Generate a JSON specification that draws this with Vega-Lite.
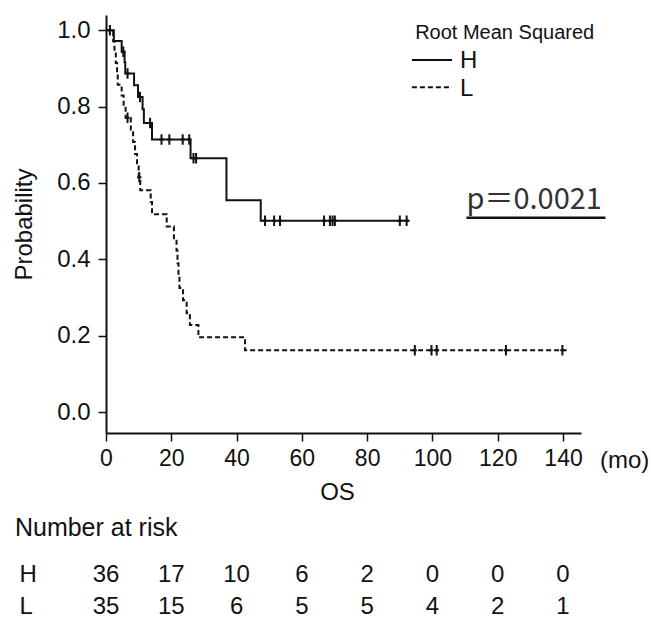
{
  "$schema": "https://vega.github.io/schema/vega-lite/v6.json",
  "autosize": {"type": "none"},
  "padding": {"left": 106, "top": 15, "right": 70, "bottom": 188},
  "width": 475,
  "height": 418,
  "background": "white",
  "config": {
    "font": "Liberation Sans",
    "view": {"stroke": null},
    "axis": {"grid": false}
  },
  "datasets": {
    "curve": [
      {"group": "H", "t": 0, "s": 1.0},
      {"group": "H", "t": 2.4, "s": 0.972},
      {"group": "H", "t": 4.8, "s": 0.944},
      {"group": "H", "t": 5.7, "s": 0.916},
      {"group": "H", "t": 5.9, "s": 0.887},
      {"group": "H", "t": 8.6, "s": 0.856},
      {"group": "H", "t": 9.8, "s": 0.825},
      {"group": "H", "t": 11.2, "s": 0.793},
      {"group": "H", "t": 11.6, "s": 0.757},
      {"group": "H", "t": 14.1, "s": 0.714},
      {"group": "H", "t": 25.9, "s": 0.665},
      {"group": "H", "t": 36.9, "s": 0.555},
      {"group": "H", "t": 47.4, "s": 0.501},
      {"group": "H", "t": 93.0, "s": 0.501},
      {"group": "L", "t": 0, "s": 1.0},
      {"group": "L", "t": 2.2, "s": 0.971},
      {"group": "L", "t": 2.6, "s": 0.943},
      {"group": "L", "t": 3.0, "s": 0.914},
      {"group": "L", "t": 3.4, "s": 0.886},
      {"group": "L", "t": 3.6, "s": 0.857},
      {"group": "L", "t": 4.8, "s": 0.829},
      {"group": "L", "t": 5.4, "s": 0.8},
      {"group": "L", "t": 6.0, "s": 0.771},
      {"group": "L", "t": 7.6, "s": 0.74},
      {"group": "L", "t": 8.3, "s": 0.707},
      {"group": "L", "t": 8.9, "s": 0.676},
      {"group": "L", "t": 9.5, "s": 0.646},
      {"group": "L", "t": 10.0, "s": 0.615},
      {"group": "L", "t": 10.5, "s": 0.581},
      {"group": "L", "t": 13.7, "s": 0.55},
      {"group": "L", "t": 14.1, "s": 0.518},
      {"group": "L", "t": 18.6, "s": 0.486},
      {"group": "L", "t": 20.8, "s": 0.455},
      {"group": "L", "t": 21.6, "s": 0.423},
      {"group": "L", "t": 21.9, "s": 0.39},
      {"group": "L", "t": 22.2, "s": 0.357},
      {"group": "L", "t": 22.5, "s": 0.325},
      {"group": "L", "t": 23.6, "s": 0.293},
      {"group": "L", "t": 24.7, "s": 0.259},
      {"group": "L", "t": 25.7, "s": 0.228},
      {"group": "L", "t": 28.3, "s": 0.196},
      {"group": "L", "t": 42.6, "s": 0.162},
      {"group": "L", "t": 141.1, "s": 0.162}
    ],
    "censor": [
      {"group": "H", "t": 1.2, "s": 1.0},
      {"group": "H", "t": 5.3, "s": 0.944},
      {"group": "H", "t": 6.6, "s": 0.887},
      {"group": "H", "t": 10.4, "s": 0.825},
      {"group": "H", "t": 13.5, "s": 0.757},
      {"group": "H", "t": 17.0, "s": 0.714},
      {"group": "H", "t": 19.4, "s": 0.714},
      {"group": "H", "t": 23.5, "s": 0.714},
      {"group": "H", "t": 25.5, "s": 0.714},
      {"group": "H", "t": 26.8, "s": 0.665},
      {"group": "H", "t": 27.6, "s": 0.665},
      {"group": "H", "t": 48.7, "s": 0.501},
      {"group": "H", "t": 51.5, "s": 0.501},
      {"group": "H", "t": 53.3, "s": 0.501},
      {"group": "H", "t": 66.8, "s": 0.501},
      {"group": "H", "t": 68.6, "s": 0.501},
      {"group": "H", "t": 69.4, "s": 0.501},
      {"group": "H", "t": 70.1, "s": 0.501},
      {"group": "H", "t": 90.0, "s": 0.501},
      {"group": "H", "t": 92.1, "s": 0.501},
      {"group": "L", "t": 6.6, "s": 0.771},
      {"group": "L", "t": 10.2, "s": 0.615},
      {"group": "L", "t": 94.6, "s": 0.162},
      {"group": "L", "t": 99.7, "s": 0.162},
      {"group": "L", "t": 101.3, "s": 0.162},
      {"group": "L", "t": 122.5, "s": 0.162},
      {"group": "L", "t": 139.8, "s": 0.162}
    ],
    "risk": [
      {"group": "H", "t": 0, "s": -0.445, "n": "36"},
      {"group": "H", "t": 20, "s": -0.445, "n": "17"},
      {"group": "H", "t": 40, "s": -0.445, "n": "10"},
      {"group": "H", "t": 60, "s": -0.445, "n": "6"},
      {"group": "H", "t": 80, "s": -0.445, "n": "2"},
      {"group": "H", "t": 100, "s": -0.445, "n": "0"},
      {"group": "H", "t": 120, "s": -0.445, "n": "0"},
      {"group": "H", "t": 140, "s": -0.445, "n": "0"},
      {"group": "L", "t": 0, "s": -0.53, "n": "35"},
      {"group": "L", "t": 20, "s": -0.53, "n": "15"},
      {"group": "L", "t": 40, "s": -0.53, "n": "6"},
      {"group": "L", "t": 60, "s": -0.53, "n": "5"},
      {"group": "L", "t": 80, "s": -0.53, "n": "5"},
      {"group": "L", "t": 100, "s": -0.53, "n": "4"},
      {"group": "L", "t": 120, "s": -0.53, "n": "2"},
      {"group": "L", "t": 140, "s": -0.53, "n": "1"}
    ],
    "labels": [
      {"t": -27.9, "s": -0.325, "label": "Number at risk", "size": 25},
      {"t": -26.5, "s": -0.445, "label": "H", "size": 24},
      {"t": -26.5, "s": -0.53, "label": "L", "size": 24},
      {"t": 151.3, "s": -0.147, "label": "(mo)", "size": 24},
      {"t": 94.7, "s": 0.977, "label": "Root Mean Squared", "size": 20},
      {"t": 108.4, "s": 0.9, "label": "H", "size": 24},
      {"t": 108.4, "s": 0.829, "label": "L", "size": 24}
    ],
    "legendlines": [
      {"group": "H", "t": 93.7, "t2": 106.0, "s": 0.922},
      {"group": "L", "t": 93.7, "t2": 106.0, "s": 0.851}
    ],
    "pvalue": [
      {"t": 110.4, "s": 0.531, "t2": 153.0, "u": 0.509, "label": "p＝0.0021"}
    ]
  },
  "encoding": {
    "x": {
      "field": "t", "type": "quantitative",
      "scale": {"domain": [0, 145.5], "nice": false, "zero": false},
      "axis": {
        "title": "OS", "values": [0, 20, 40, 60, 80, 100, 120, 140],
        "labelFontSize": 23, "titleFontSize": 24, "titleFontWeight": "normal",
        "labelColor": "#111", "titleColor": "#111",
        "tickSize": 8, "tickWidth": 1.5, "tickColor": "#111",
        "domainColor": "#111", "domainWidth": 2,
        "labelPadding": 6, "titlePadding": 10, "labelFlush": false,
        "titleX": 231
      }
    },
    "y": {
      "field": "s", "type": "quantitative",
      "scale": {"domain": [-0.055, 1.04], "nice": false, "zero": false},
      "axis": {
        "title": "Probability", "values": [0, 0.2, 0.4, 0.6, 0.8, 1.0], "format": ".1f",
        "labelFontSize": 24, "titleFontSize": 24, "titleFontWeight": "normal",
        "labelColor": "#111", "titleColor": "#111",
        "tickSize": 8, "tickWidth": 1.5, "tickColor": "#111",
        "domainColor": "#111", "domainWidth": 2,
        "labelPadding": 8, "titlePadding": 20, "labelFlush": false
      }
    }
  },
  "layer": [
    {
      "data": {"name": "curve"},
      "mark": {"type": "line", "interpolate": "step-after", "color": "#111", "strokeWidth": 2},
      "encoding": {
        "detail": {"field": "group"},
        "strokeDash": {
          "field": "group", "type": "nominal",
          "scale": {"domain": ["H", "L"], "range": [[1, 0], [5, 3]]},
          "legend": null
        }
      }
    },
    {
      "data": {"name": "legendlines"},
      "mark": {"type": "rule", "color": "#111", "strokeWidth": 2},
      "encoding": {
        "x2": {"field": "t2"},
        "strokeDash": {"field": "group", "type": "nominal", "legend": null}
      }
    },
    {
      "data": {"name": "censor"},
      "mark": {"type": "point", "shape": "M0,-1L0,1M-0.4,0L0.4,0", "size": 110, "strokeWidth": 2, "color": "#111", "filled": false, "opacity": 1}
    },
    {
      "data": {"name": "risk"},
      "mark": {"type": "text", "fontSize": 24, "align": "center", "baseline": "alphabetic", "color": "#111"},
      "encoding": {"text": {"field": "n"}}
    },
    {
      "data": {"name": "labels"},
      "mark": {"type": "text", "align": "left", "baseline": "alphabetic", "color": "#111"},
      "encoding": {"text": {"field": "label"}, "size": {"field": "size", "type": "quantitative", "scale": null}}
    },
    {
      "data": {"name": "pvalue"},
      "mark": {"type": "text", "font": "Noto Sans CJK JP", "fontSize": 29, "align": "left", "baseline": "alphabetic", "color": "#333"},
      "encoding": {"text": {"field": "label"}}
    },
    {
      "data": {"name": "pvalue"},
      "mark": {"type": "rule", "color": "#111", "strokeWidth": 2.5},
      "encoding": {"x2": {"field": "t2"}, "y": {"field": "u", "type": "quantitative"}}
    }
  ]
}
